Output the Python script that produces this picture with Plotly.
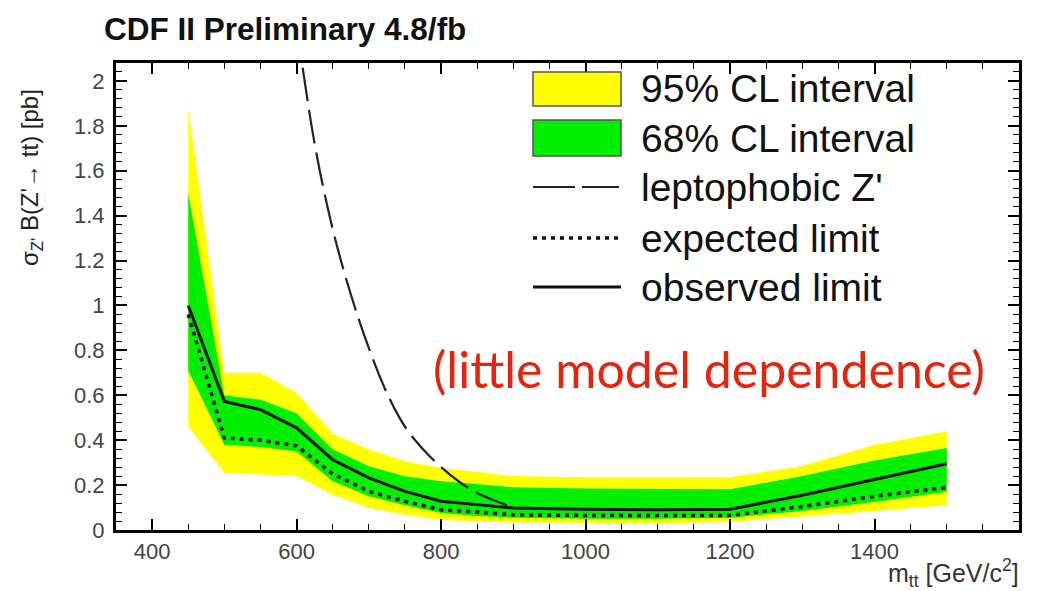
import plotly.graph_objects as go

# Z' mass points (GeV/c^2)
mass = [450, 500, 550, 600, 650, 700, 750, 800, 850, 900, 1000, 1100, 1200, 1300, 1400, 1500]

# 95% CL band
band95_hi = [1.88, 0.70, 0.70, 0.61, 0.43, 0.358, 0.306, 0.276, 0.26, 0.24, 0.235, 0.235, 0.235, 0.285, 0.38, 0.44]
band95_lo = [0.46, 0.254, 0.247, 0.24, 0.157, 0.098, 0.068, 0.046, 0.038, 0.033, 0.03, 0.03, 0.036, 0.06, 0.085, 0.11]

# 68% CL band
band68_hi = [1.50, 0.60, 0.58, 0.52, 0.36, 0.284, 0.239, 0.217, 0.205, 0.19, 0.185, 0.185, 0.182, 0.24, 0.31, 0.365]
band68_lo = [0.71, 0.38, 0.37, 0.35, 0.217, 0.15, 0.11, 0.076, 0.062, 0.055, 0.05, 0.05, 0.055, 0.085, 0.125, 0.17]

# limits (pb)
expected = [0.96, 0.41, 0.40, 0.375, 0.25, 0.172, 0.128, 0.09, 0.08, 0.068, 0.065, 0.065, 0.065, 0.105, 0.15, 0.19]
observed = [1.0, 0.573, 0.536, 0.455, 0.313, 0.232, 0.172, 0.128, 0.113, 0.098, 0.092, 0.09, 0.092, 0.155, 0.225, 0.295]

# leptophobic Z' cross section
lepto_mass = [600, 625, 650, 675, 700, 725, 750, 775, 800, 825, 850, 875, 900]
lepto_xsec = [2.25, 1.72, 1.34, 1.05, 0.81, 0.61, 0.46, 0.36, 0.28, 0.215, 0.165, 0.13, 0.10]

x_ticks = [400, 600, 800, 1000, 1200, 1400, 1600]

title_text = "CDF II Preliminary 4.8/fb"
legend_labels = ["95% CL interval", "68% CL interval", "leptophobic Z'", "expected limit", "observed limit"]
note_text = "(little model dependence)"

YELLOW = "#ffff00"
GREEN = "#00f000"

fig = go.Figure()
fig.add_trace(go.Scatter(x=mass + mass[::-1], y=band95_hi + band95_lo[::-1], fill="toself",
                         fillcolor=YELLOW, line=dict(width=0), mode="lines", hoverinfo="skip"))
fig.add_trace(go.Scatter(x=mass + mass[::-1], y=band68_hi + band68_lo[::-1], fill="toself",
                         fillcolor=GREEN, line=dict(width=0), mode="lines", hoverinfo="skip"))
fig.add_trace(go.Scatter(x=lepto_mass, y=lepto_xsec, mode="lines",
                         line=dict(color="#222", width=2.2, dash="34px,9px", shape="spline")))
fig.add_trace(go.Scatter(x=mass, y=expected, mode="lines",
                         line=dict(color="#111", width=3.5, dash="4px,5px")))
fig.add_trace(go.Scatter(x=mass, y=observed, mode="lines",
                         line=dict(color="#111", width=3)))

L, R, T, B = 116, 22, 63, 61
W, H = 1041, 591
PW, PH = W - L - R, H - T - B


def px(xp):
    return (xp - L) / PW


def py(yp):
    return (H - B - yp) / PH


shapes = []
annotations = []

# legend entries
row_y = [89, 138, 187, 238, 287]
sx0, sx1 = 533, 621
shapes.append(dict(type="rect", xref="paper", yref="paper", x0=px(sx0), x1=px(sx1),
                   y0=py(106), y1=py(72), fillcolor=YELLOW, line=dict(color="#555", width=1.5)))
shapes.append(dict(type="rect", xref="paper", yref="paper", x0=px(sx0), x1=px(sx1),
                   y0=py(156), y1=py(120), fillcolor=GREEN, line=dict(color="#555", width=1.5)))
shapes.append(dict(type="line", xref="paper", yref="paper", x0=px(sx0), x1=px(sx1 - 2),
                   y0=py(row_y[2]), y1=py(row_y[2]), line=dict(color="#222", width=2.2, dash="42px,7px")))
shapes.append(dict(type="line", xref="paper", yref="paper", x0=px(sx0), x1=px(sx1),
                   y0=py(row_y[3]), y1=py(row_y[3]), line=dict(color="#111", width=3.5, dash="4px,5px")))
shapes.append(dict(type="line", xref="paper", yref="paper", x0=px(sx0), x1=px(sx1),
                   y0=py(row_y[4]), y1=py(row_y[4]), line=dict(color="#111", width=3)))
for lab, ry in zip(legend_labels, row_y):
    annotations.append(dict(text=lab, xref="paper", yref="paper", x=px(639), y=py(ry),
                            xanchor="left", yanchor="middle", showarrow=False,
                            font=dict(family="Liberation Sans", size=39, color="#111")))

# title
annotations.append(dict(text="<b>" + title_text + "</b>", xref="paper", yref="paper",
                        x=px(102), y=py(29), xanchor="left", yanchor="middle", showarrow=False,
                        font=dict(family="Liberation Sans", size=31.5, color="#111")))
# y axis title
annotations.append(dict(text="σ<sub>Z'</sub> B(Z'→ tt) [pb]", xref="paper", yref="paper",
                        x=px(31), y=py(178), xanchor="center", yanchor="middle", textangle=-90,
                        showarrow=False, font=dict(family="Liberation Sans", size=24, color="#222")))
# x axis title
annotations.append(dict(text="m<sub>tt</sub> [GeV/c<sup>2</sup>]", xref="paper", yref="paper",
                        x=px(1021), y=py(573), xanchor="right", yanchor="middle",
                        showarrow=False, font=dict(family="Liberation Sans", size=25, color="#333")))
# red note
annotations.append(dict(text=note_text, xref="paper", yref="paper",
                        x=px(709), y=py(369), xanchor="center", yanchor="middle",
                        showarrow=False, font=dict(family="Lato", size=50, color="#e2250c")))

axis_common = dict(showgrid=False, zeroline=False, showline=True, linecolor="black", linewidth=3,
                   mirror="ticks", ticks="inside", ticklen=11, tickwidth=1.5, tickcolor="black",
                   tickfont=dict(family="Liberation Sans", size=22, color="#444"))

fig.update_layout(
    width=W, height=H,
    margin=dict(l=L, r=R, t=T, b=B),
    paper_bgcolor="white", plot_bgcolor="white",
    showlegend=False,
    shapes=shapes, annotations=annotations,
    xaxis=dict(range=[350, 1600], tickvals=x_ticks, ticktext=[str(v) for v in x_ticks],
               minor=dict(dtick=50, tick0=400, ticks="inside", ticklen=6, tickwidth=1.2, tickcolor="black"),
               **axis_common),
    yaxis=dict(range=[0, 2.08], dtick=0.2, tick0=0,
               minor=dict(dtick=0.04, tick0=0, ticks="inside", ticklen=6, tickwidth=1.2, tickcolor="black"),
               ticklabelstandoff=4, **axis_common),
)

fig.write_html("out.html")
